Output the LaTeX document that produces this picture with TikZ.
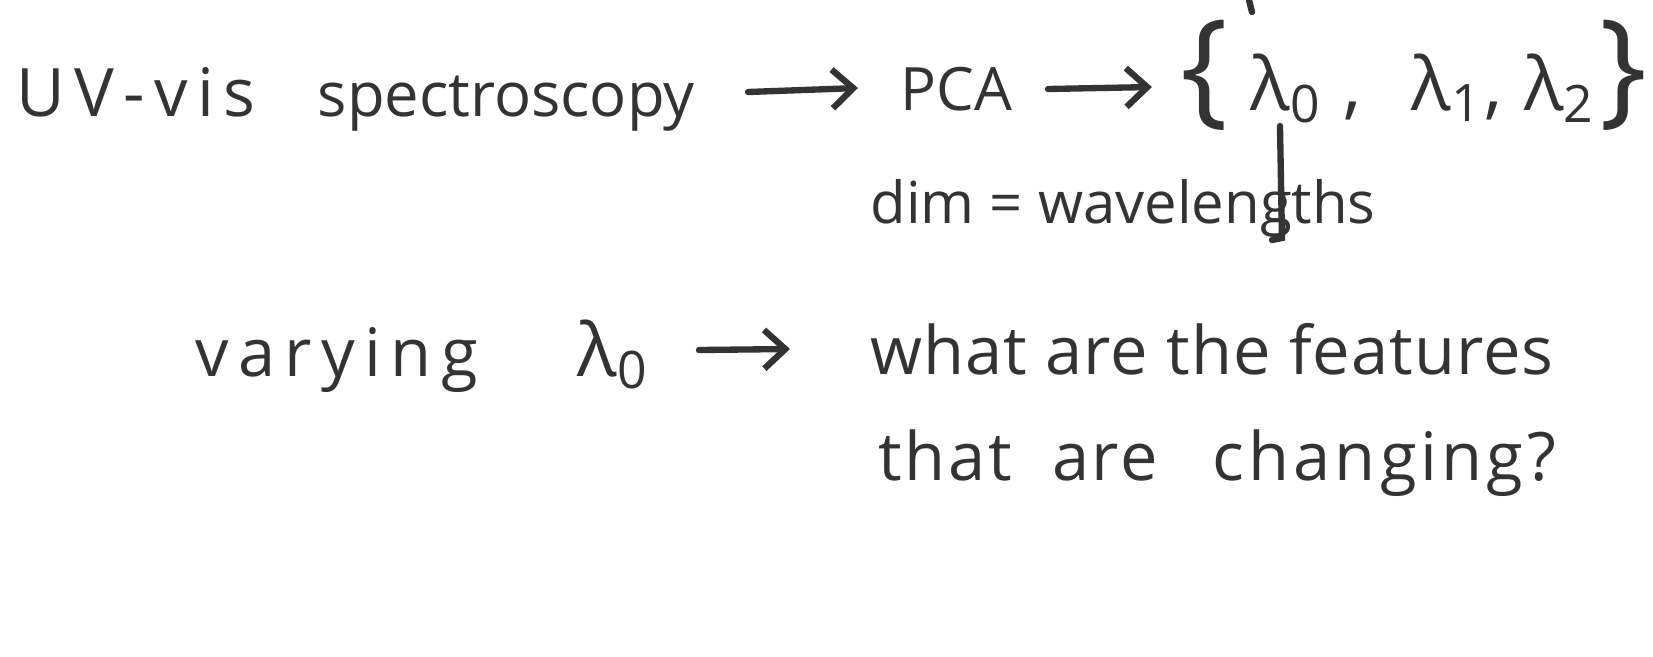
\documentclass[tikz,border=0pt]{standalone}
\usepackage{fontspec}
\setmainfont{Open Sans}
\usetikzlibrary{arrows.meta}
\definecolor{ink}{HTML}{333333}
\newcommand{\ls}[2]{{\addfontfeature{LetterSpace=#1}#2}}
\begin{document}
\begin{tikzpicture}[x=0.01cm,y=-0.01cm,
  txt/.style={inner sep=0pt,text=ink,font=\fontsize{19}{22}\selectfont},
  conn/.style={draw=ink,line width=1.8pt,line cap=round,-{Straight Barb[length=6pt,width=11pt,line width=1.8pt]}},
  plain/.style={draw=ink,line width=1.8pt,line cap=round}]
\useasboundingbox (0,0) rectangle (1653,657);
\node[txt,anchor=base west] (uv) at (16,116) {\ls{14}{UV-vis}\hspace{0.62cm}{\fontsize{17.5}{20}\selectfont spectroscopy}};
\node[txt,anchor=base west,font=\fontsize{17}{20}\selectfont] (pca) at (900,110) {PCA};
\node[txt,anchor=base west,font=\fontsize{21}{26}\selectfont] (set) at (1180,110) {{\fontsize{36}{36}\selectfont\{}\hspace{0.22cm}λ\textsubscript{0}\hspace{0.22cm},\hspace{0.5cm}λ\textsubscript{1}\hspace{0.02cm},\hspace{0.22cm}λ\textsubscript{2}\hspace{0.04cm}{\fontsize{36}{36}\selectfont\}}};
\node[txt,anchor=base west,font=\fontsize{16.5}{20}\selectfont] (dim) at (870,223) {dim =\hspace{0.15cm}wavelengths};
\node[txt,anchor=base west] (var) at (195,376) {\ls{14}{varying}\hspace{1.0cm}{\fontsize{21}{24}\selectfont λ\textsubscript{0}}};
\node[txt,anchor=base west] (what) at (870,374) {\ls{1.5}{what are the features}};
\node[txt,anchor=base west] (that) at (878,480) {\ls{4}{that}\hspace{0.4cm}\ls{4}{are}\hspace{0.55cm}\ls{6}{changing?}};
\coordinate (a1s) at (748,92);
\coordinate (a1e) at (858,88);
\coordinate (a2s) at (1048,89);
\coordinate (a2e) at (1152,87);
\coordinate (a3s) at (699,350);
\coordinate (a3e) at (790,349);
\coordinate (lam) at (1280,126);
\coordinate (lamend) at (1282,238);
\coordinate (tick) at (1249,0);
\coordinate (tickend) at (1252,12);
\draw[conn] (a1s) -- (a1e);
\draw[conn] (a2s) -- (a2e);
\draw[conn] (a3s) -- (a3e);
\draw[plain] (lam) -- (lamend) -- ++(-10,2);
\draw[plain] (tick) -- (tickend);
\end{tikzpicture}
\end{document}
